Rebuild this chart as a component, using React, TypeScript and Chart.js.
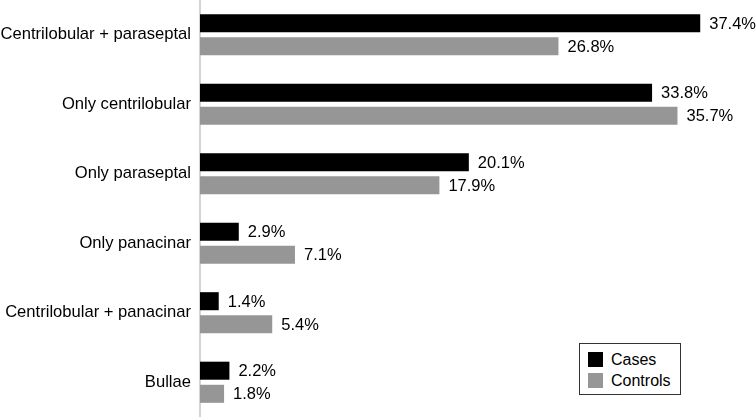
import React, { useEffect, useRef } from "react";
import { Chart, registerables } from "chart.js";

Chart.register(...registerables);

const categories = [
  "Centrilobular + paraseptal",
  "Only centrilobular",
  "Only paraseptal",
  "Only panacinar",
  "Centrilobular + panacinar",
  "Bullae",
];
const casesValues = [37.4, 33.8, 20.1, 2.9, 1.4, 2.2];
const controlsValues = [26.8, 35.7, 17.9, 7.1, 5.4, 1.8];
const seriesNames = ["Cases", "Controls"];
const seriesColors = ["#000000", "#969696"];

const FONT = "'Liberation Sans', Arial, sans-serif";

const valueLabelPlugin = {
  id: "valueLabels",
  afterDatasetsDraw(chart: any) {
    const ctx = chart.ctx;
    ctx.save();
    ctx.font = `16.5px ${FONT}`;
    ctx.fillStyle = "#000";
    ctx.textAlign = "left";
    ctx.textBaseline = "middle";
    chart.data.datasets.forEach((ds: any, di: number) => {
      const meta = chart.getDatasetMeta(di);
      meta.data.forEach((el: any, i: number) => {
        const v = ds.data[i];
        ctx.fillText(v.toFixed(1) + "%", el.x + 9, el.y + 1);
      });
    });
    ctx.restore();
  },
};

export default function App() {
  const ref = useRef<HTMLCanvasElement | null>(null);
  useEffect(() => {
    document.body.style.margin = "0";
    const chart = new Chart(ref.current as HTMLCanvasElement, {
      type: "bar",
      data: {
        labels: categories,
        datasets: [
          { label: seriesNames[0], data: casesValues, backgroundColor: seriesColors[0] },
          { label: seriesNames[1], data: controlsValues, backgroundColor: seriesColors[1] },
        ],
      },
      options: {
        indexAxis: "y",
        animation: false,
        responsive: true,
        maintainAspectRatio: false,
        layout: { padding: { left: 0, right: 21, top: 0, bottom: 0 } },
        datasets: {
          bar: { categoryPercentage: 0.665, barPercentage: 0.78 },
        },
        plugins: {
          legend: { display: false },
          tooltip: { enabled: false },
        },
        scales: {
          x: {
            display: false,
            min: 0,
            max: 40,
          },
          y: {
            afterFit: (scale: any) => {
              scale.width = 200;
              scale.paddingTop = 0;
              scale.paddingBottom = 0;
            },
            grid: { display: false, drawTicks: false },
            border: { display: true, color: "#d4d4d4", width: 2 },
            ticks: {
              padding: 9,
              color: "#000",
              font: { family: FONT, size: 16.6 },
            },
          },
        },
      },
      plugins: [valueLabelPlugin],
    } as any);
    return () => chart.destroy();
  }, []);

  return (
    <div style={{ position: "absolute", left: 0, top: 0, width: 756, height: 417 }}>
      <canvas ref={ref} />
      <div
        style={{
          position: "absolute",
          left: 579,
          top: 343,
          width: 100,
          height: 50,
          border: "1px solid #333",
          background: "#fff",
          fontFamily: FONT,
          fontSize: 16,
          color: "#000",
        }}
      >
        {seriesNames.map((n, i) => (
          <div
            key={n}
            style={{
              position: "absolute",
              left: 8,
              top: i === 0 ? 8 : 29,
              height: 15,
              display: "flex",
              alignItems: "center",
              whiteSpace: "nowrap",
            }}
          >
            <span
              style={{
                display: "inline-block",
                width: 15,
                height: 15,
                background: seriesColors[i],
                marginRight: 8,
              }}
            />
            <span style={{ lineHeight: "15px" }}>{n}</span>
          </div>
        ))}
      </div>
    </div>
  );
}
